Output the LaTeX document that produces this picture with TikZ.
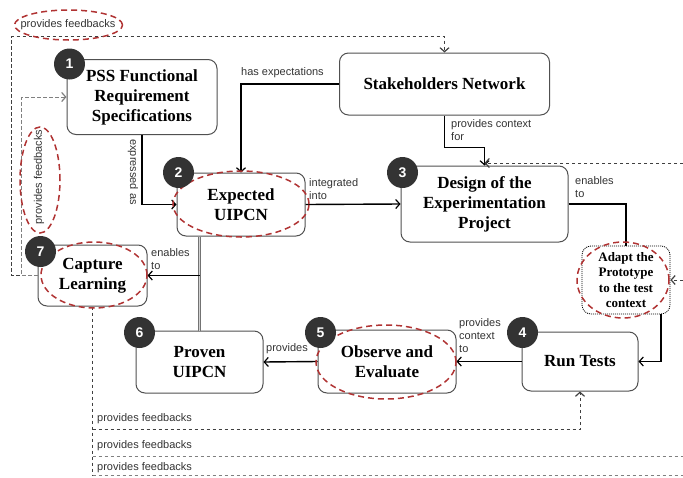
\documentclass[tikz,border=0pt]{standalone}
\usepackage{fontspec}
\setmainfont{Liberation Serif}
\setsansfont{Liberation Sans}
\usetikzlibrary{arrows.meta,calc}
\definecolor{boxgray}{HTML}{505050}
\definecolor{badgecol}{HTML}{333333}
\definecolor{lblcol}{HTML}{333333}
\definecolor{fbcol}{HTML}{404040}
\definecolor{fblight}{HTML}{808080}
\definecolor{redcol}{HTML}{B03333}
\begin{document}
\begin{tikzpicture}[x=1pt,y=-1pt,
  box/.style={draw=boxgray,line width=1pt,rounded corners=9pt,align=center,font=\fontsize{17}{20}\selectfont\bfseries,inner sep=0pt},
  badgestyle/.style={circle,fill=badgecol,draw=none,minimum size=31pt,inner sep=0pt,text=white,font=\sffamily\bfseries\fontsize{14}{14}\selectfont},
  lbl/.style={font=\sffamily\fontsize{11}{13}\selectfont,text=lblcol,inner sep=0pt,align=left},
  conn/.style={line width=1.4pt,draw=black},
  tip/.style={-{Straight Barb[length=4pt,width=9pt,line width=1.2pt]}},
  fb/.style={dash pattern=on 3.5pt off 2.5pt,line width=1pt,draw=fbcol},
  ell/.style={draw=redcol,line width=1.5pt,dash pattern=on 6pt off 4pt},
  dbl/.style={draw=boxgray!80,line width=0.8pt,double=gray!35,double distance=1.6pt}
]
\useasboundingbox (0,0) rectangle (683,477);

% boxes
\node[box,minimum width=150pt,minimum height=75pt] (n1) at (142,97) {PSS Functional\\Requirement\\Specifications};
\node[box,minimum width=210pt,minimum height=62pt] (sh) at (444.5,84) {Stakeholders Network};
\node[box,minimum width=128pt,minimum height=63pt] (n2) at (241,204.5) {Expected\\UIPCN};
\node[box,minimum width=167pt,minimum height=76pt] (n3) at (484.5,204) {Design of the\\Experimentation\\Project};
\node[box,draw=black,densely dotted,line width=0.8pt,font=\fontsize{13}{15.5}\selectfont\bfseries,minimum width=88pt,minimum height=68pt] (ad) at (626,280) {Adapt the\\Prototype\\to the test\\context};
\node[box,minimum width=116pt,minimum height=59pt] (rt) at (580,361.5) {Run Tests};
\node[box,minimum width=138pt,minimum height=63pt] (ob) at (387,361.5) {Observe and\\Evaluate};
\node[box,minimum width=127pt,minimum height=62pt] (pr) at (199.5,362) {Proven\\UIPCN};
\node[box,minimum width=109pt,minimum height=61pt] (cl) at (92.5,275.5) {Capture\\Learning};

% solid connectors
\draw[conn,tip] (n1.south) |- (n2.west);
\draw[conn,tip] (sh.west) -| (n2.north);
\draw[conn,tip] (sh.south) -- ++(0,32) -| (n3.north);
\draw[conn,tip] (n2.east) -- (n3.west);
\draw[conn] (n3.east) -| (ad.north);
\draw[conn,tip] ($(ad.south)+(35,0)$) |- (rt.east);
\draw[conn,tip] (rt.west) -- (ob.east);
\draw[conn,tip] (ob.west) -- (pr.east);
\draw[dbl] (pr.north |- n2.south) -- (pr.north);
\draw[conn,tip] (pr.north |- cl.east) -- (cl.east);

% feedback connectors
\coordinate (r1) at (683,163);
\coordinate (r2) at (683,280);
\coordinate (e1) at (683,456);
\coordinate (e2) at (683,475);
\draw[fb,tip] (r1) -- (n3.north |- r1);
\draw[fb,tip] (r2) -- (ad.east);
\draw[fb,tip] (cl.west) -- ++(-26,0) |- ($(sh.north)+(0,-16)$) -- (sh.north);
\draw[fb,draw=fblight,tip] (cl.west) -- ++(-16,0) |- (n1.west);
\draw[fb] (cl.south) -- (cl.south |- e2);
\draw[fb,tip] ($(cl.south |- rt.south)+(0,38)$) -| (rt.south);
\draw[fb,draw=fblight] (cl.south |- e1) -- (e1);
\draw[fb,draw=fblight] (cl.south |- e2) -- (e2);

% labels
\node[lbl] (lt) at (68,25) {provides feedbacks};
\node[lbl,rotate=90] (lv) at (39,177) {provides feedbacks};
\node[lbl,rotate=-90] (le) at (133,172) {expressed as};
\node[lbl,anchor=west] (lh) at (241,73) {has expectations};
\node[lbl,anchor=north west] (lp) at (451,119) {provides context\\for};
\node[lbl,anchor=north west] (li) at (309,178) {integrated\\into};
\node[lbl,anchor=north west] (le3) at (575,176) {enables\\to};
\node[lbl,anchor=north west] (le7) at (151,248) {enables\\to};
\node[lbl,anchor=north west] (lc) at (459,318) {provides\\context\\to};
\node[lbl] (lpr) at (287,349) {provides};
\node[lbl,anchor=west] (lf1) at (97,419) {provides feedbacks};
\node[lbl,anchor=west] (lf2) at (97,446) {provides feedbacks};
\node[lbl,anchor=west] (lf3) at (97,468) {provides feedbacks};

% red dashed highlights
\draw[ell] (68.5,25) ellipse [x radius=54pt,y radius=15pt];
\draw[ell] (40,180) ellipse [x radius=20pt,y radius=53pt];
\draw[ell] (241,204) ellipse [x radius=68pt,y radius=33pt];
\draw[ell] (94,275) ellipse [x radius=53pt,y radius=33pt];
\draw[ell] (386,362) ellipse [x radius=70pt,y radius=37pt];
\draw[ell] (623,280) ellipse [x radius=46pt,y radius=38pt];

% badges
\node[badgestyle] (b1) at ($(n1.north west)+(3,5)$) {1};
\node[badgestyle] (b2) at ($(n2.north west)+(2,0)$) {2};
\node[badgestyle] (b3) at ($(n3.north west)+(2,7)$) {3};
\node[badgestyle] (b4) at ($(rt.north west)+(1,1)$) {4};
\node[badgestyle] (b5) at ($(ob.north west)+(3,3)$) {5};
\node[badgestyle] (b6) at ($(pr.north west)+(4,2)$) {6};
\node[badgestyle] (b7) at ($(cl.north west)+(3,7)$) {7};
\end{tikzpicture}
\end{document}
